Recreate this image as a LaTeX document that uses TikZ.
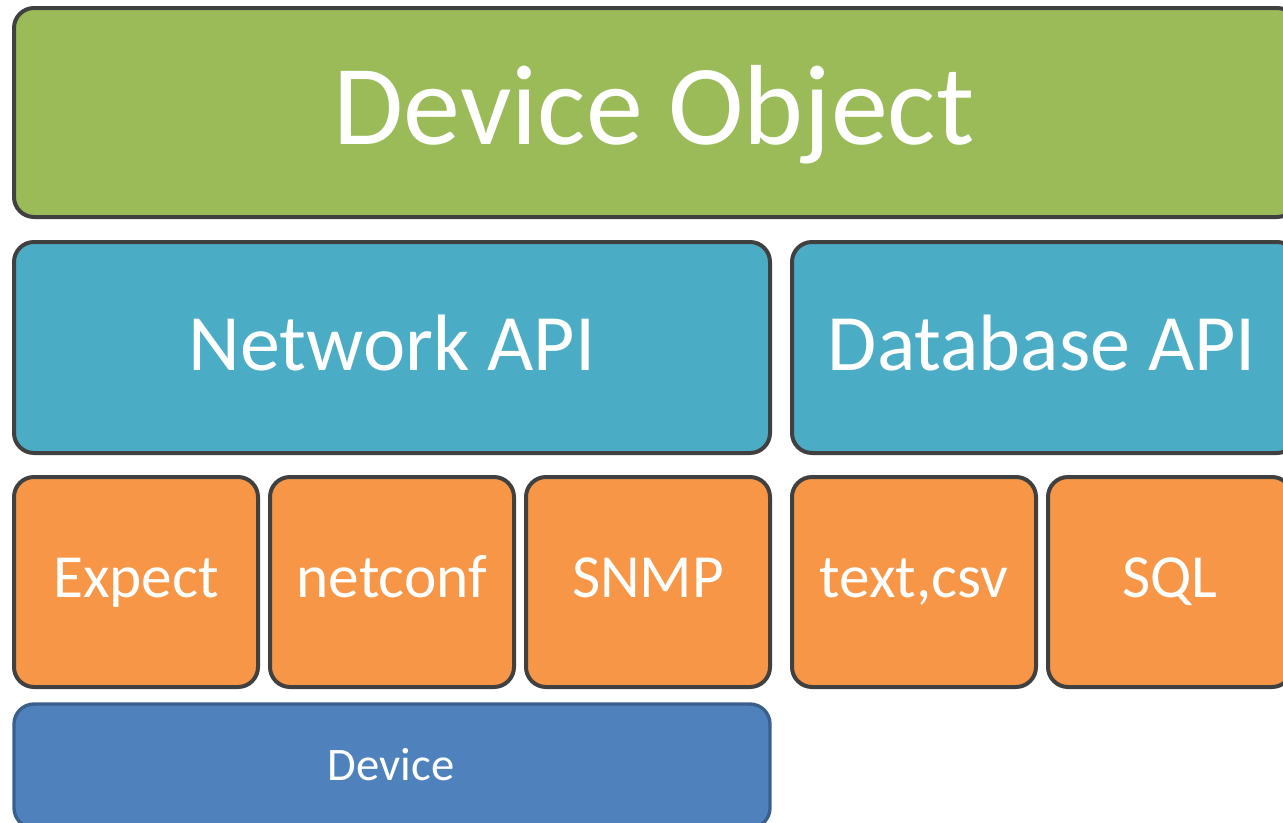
\documentclass[tikz,border=0pt]{standalone}
\usepackage{fontspec}
\setmainfont{Carlito}
\definecolor{objgreen}{HTML}{9BBB59}
\definecolor{apiblue}{HTML}{4BACC6}
\definecolor{protoorange}{HTML}{F79646}
\definecolor{devblue}{HTML}{4F81BD}
\definecolor{devedge}{HTML}{3A5F8C}
\definecolor{edgegray}{HTML}{404040}
\tikzset{
  layer/.style={draw=edgegray, line width=3pt, rounded corners=15pt},
  lbl/.style={text=white, inner sep=0pt, anchor=base},
}
\begin{document}
\begin{tikzpicture}[x=0.75pt,y=-0.75pt]
\useasboundingbox (0,0) rectangle (1283,822);
% Device Object
\draw[layer, fill=objgreen] (14,8) rectangle (1297,217);
\node[lbl, font=\fontsize{85.5}{90}\selectfont] (obj) at (654,144) {Device Object};
% APIs
\draw[layer, fill=apiblue] (14,242) rectangle (770,453);
\node[lbl, font=\fontsize{60}{66}\selectfont] (net) at (392,370) {Network API};
\draw[layer, fill=apiblue] (792,242) rectangle (1297,453);
\node[lbl, font=\fontsize{60}{66}\selectfont] (db) at (1042,370) {Database API};
% protocols
\draw[layer, fill=protoorange] (14,477) rectangle (258,687);
\node[lbl, font=\fontsize{46}{52}\selectfont] (expect) at (136,597) {Expect};
\draw[layer, fill=protoorange] (270,477) rectangle (514,687);
\node[lbl, font=\fontsize{46}{52}\selectfont] (netconf) at (392,597) {netconf};
\draw[layer, fill=protoorange] (526,477) rectangle (770,687);
\node[lbl, font=\fontsize{46}{52}\selectfont] (snmp) at (648,597) {SNMP};
\draw[layer, fill=protoorange] (792,477) rectangle (1036,687);
\node[lbl, font=\fontsize{46}{52}\selectfont] (text) at (914,597) {text,csv};
\draw[layer, fill=protoorange] (1048,477) rectangle (1292,687);
\node[lbl, font=\fontsize{46}{52}\selectfont] (sql) at (1170,597) {SQL};
% Device
\draw[layer, draw=devedge, line width=2.5pt, fill=devblue] (14,704) rectangle (770,828);
\node[lbl, font=\fontsize{35}{40}\selectfont] (dev) at (391,780) {Device};
\end{tikzpicture}
\end{document}
